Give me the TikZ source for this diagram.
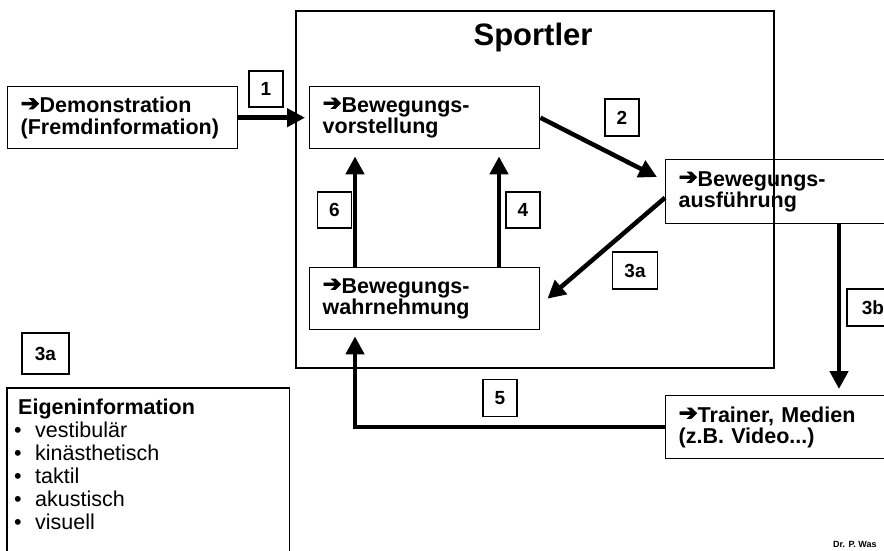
\documentclass[tikz,border=0pt]{standalone}
\usepackage{fontspec}
\setmainfont{Liberation Sans}
\newfontfamily\arrowfont[FakeBold=4]{DejaVu Sans}
\usepackage{tikz}
\usetikzlibrary{arrows.meta,calc}
\newcommand{\Pf}{\raisebox{2pt}{\resizebox{19pt}{12pt}{\arrowfont\mdseries\char"2794}}}
\newcommand{\Pkt}{\makebox[17pt][l]{\hspace*{-4pt}\textbullet}}
\newcommand{\NumBox}[4][]{% options name center text
\node[numbox,#1] (#2) at (#3) {#4};
}
\tikzset{
  textbox/.style={draw,line width=1.4pt,anchor=north west,align=left,
    inner xsep=13pt,inner ysep=0pt,minimum height=62pt,
    font=\fontsize{21.5}{21.5}\selectfont\bfseries},
  numbox/.style={draw,line width=1.2pt,minimum width=34pt,minimum height=36pt,
    inner sep=0pt,font=\fontsize{19}{19}\selectfont\bfseries},
  flow/.style={line width=4.5pt,-{Triangle[length=18pt,width=18pt]}},
}

\begin{document}
\begin{tikzpicture}[x=1pt,y=-1pt]
\useasboundingbox (0,0) rectangle (884,550);
\clip (0,0) rectangle (884,550);

% Sportler frame
\node[draw,line width=1.5pt,anchor=north west,minimum width=478pt,minimum height=357pt,inner sep=0pt] (sportler) at (295,10) {};
\node[anchor=base,font=\fontsize{31}{31}\selectfont\bfseries] (titel) at (533,45) {Sportler};

% boxes
\node[textbox,text width=204pt] (demo) at (7,86) {\Pf Demonstration\\(Fremdinformation)};
\node[textbox,text width=204pt] (vorst) at (309,86) {\Pf Bewegungs-\\vorstellung};
\node[textbox,text width=204pt] (wahr) at (309,267) {\Pf Bewegungs-\\wahrnehmung};
\node[textbox,text width=234pt,minimum height=64pt] (ausf) at (665,159) {\Pf Bewegungs-\\ausführung};
\node[textbox,text width=234pt,minimum height=63pt] (trainer) at (665,395) {\Pf Trainer, Medien\\(z.B. Video...)};
\node[anchor=north west,align=left,inner xsep=11pt,inner ysep=11pt,
  text width=260pt,font=\fontsize{21.5}{23}\selectfont] (eigen) at (7,388)
  {\textbf{Eigeninformation}\\\Pkt vestibulär\\\Pkt kinästhetisch\\\Pkt taktil\\\Pkt akustisch\\\Pkt visuell};
\draw[line width=1.4pt] (eigen.north west) rectangle ($(eigen.south east)+(0,30)$);

% numbers
\NumBox{n1}{266,89}{1}
\NumBox[minimum height=37pt]{n2}{622,117.5}{2}
\NumBox{n4}{523,210}{4}
\NumBox{n6}{334.5,210}{6}
\NumBox[minimum width=45pt,minimum height=37pt]{n3a}{635,270.5}{3a}
\NumBox[minimum width=52pt,minimum height=37pt]{n3b}{873,307.5}{3b}
\NumBox[minimum height=37pt]{n5}{500,398}{5}
\NumBox[minimum width=47pt,minimum height=41pt]{n3al}{45.5,353.5}{3a}

% connectors
\draw[flow] (demo.east) -- ($(vorst.west)+(-4,0)$);
\draw[flow] (vorst.east) -- ($(ausf.north west)+(-8,18)$);
\draw[flow] ($(ausf.west)+(0,6)$) -- ($(wahr.east)+(7,0)$);
\draw[flow] ($(wahr.north west)+(46,0)$) -- ($(vorst.south west)+(46,7)$);
\draw[flow] ($(wahr.north west)+(190,0)$) -- ($(vorst.south west)+(190,7)$);
\draw[flow] ($(ausf.south west)+(174,0)$) -- ($(trainer.north west)+(174,-6)$);
\draw[flow] (trainer.west) -| ($(wahr.south west)+(46,6)$);

\node[anchor=base west,inner sep=0pt,font=\fontsize{9}{9}\selectfont\bfseries] (autor) at (833,547) {Dr. P. Was};
\end{tikzpicture}
\end{document}
